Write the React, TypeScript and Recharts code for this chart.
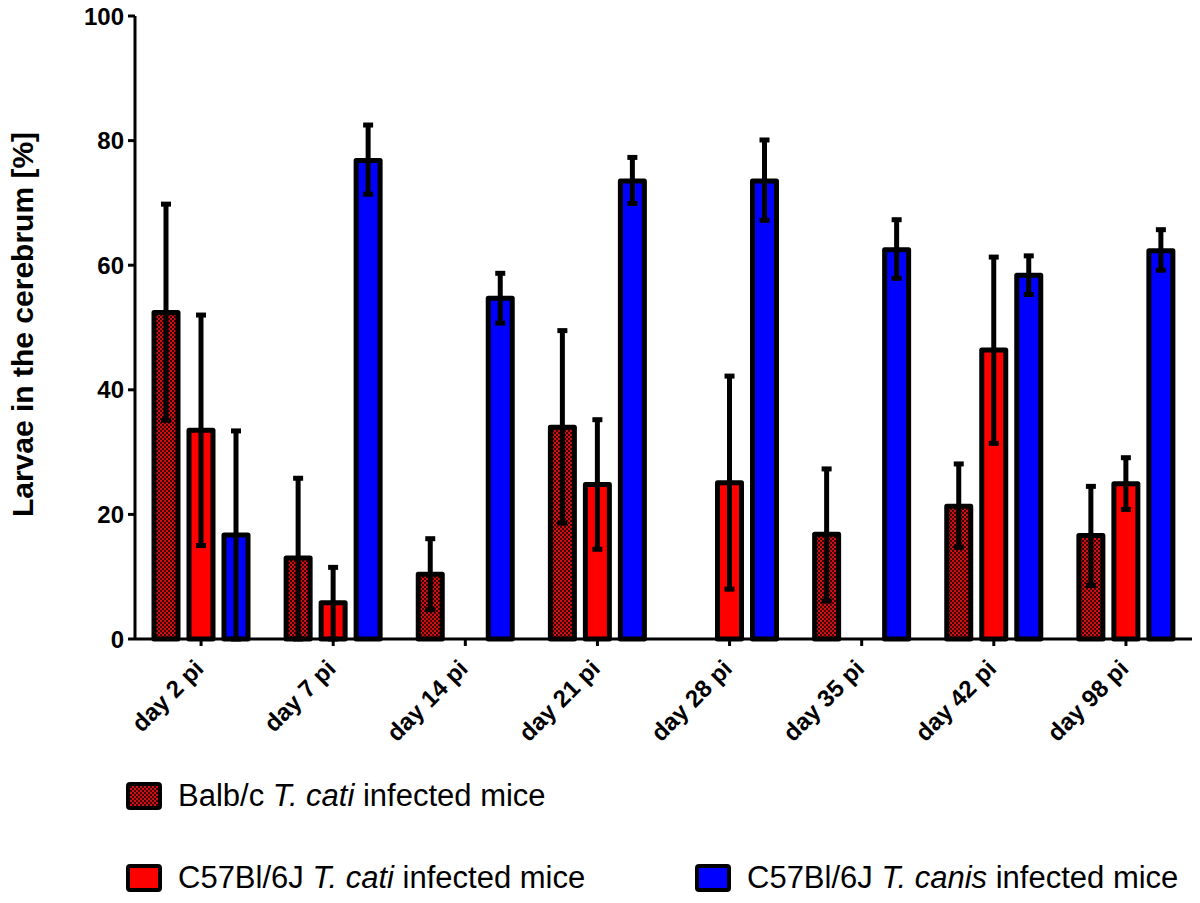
import { BarChart, Bar, XAxis, YAxis, ErrorBar } from 'recharts'

const days = ['day 2 pi', 'day 7 pi', 'day 14 pi', 'day 21 pi', 'day 28 pi', 'day 35 pi', 'day 42 pi', 'day 98 pi']

// Balb/c T. cati
const balbMean = [52.4, 13.0, 10.4, 34.0, null, 16.8, 21.3, 16.6]
const balbLow = [35.1, 0, 4.7, 18.6, null, 6.1, 14.7, 8.6]
const balbHigh = [69.8, 25.8, 16.1, 49.5, null, 27.3, 28.1, 24.5]

// C57Bl/6J T. cati
const catiMean = [33.5, 5.8, null, 24.8, 25.1, null, 46.4, 24.9]
const catiLow = [15.0, 0, null, 14.4, 8.0, null, 31.4, 20.8]
const catiHigh = [52.0, 11.5, null, 35.2, 42.2, null, 61.3, 29.1]

// C57Bl/6J T. canis
const canisMean = [16.7, 76.8, 54.7, 73.5, 73.5, 62.5, 58.4, 62.3]
const canisLow = [0, 71.4, 50.7, 69.9, 67.2, 57.9, 55.3, 59.2]
const canisHigh = [33.4, 82.5, 58.7, 77.3, 80.1, 67.3, 61.5, 65.7]

const yTicks = [0, 20, 40, 60, 80, 100]

const err = (m, lo, hi) => (m == null ? null : [m - lo, hi - m])

const data = days.map((day, i) => ({
  day,
  balb: balbMean[i],
  balbErr: err(balbMean[i], balbLow[i], balbHigh[i]),
  cati: catiMean[i],
  catiErr: err(catiMean[i], catiLow[i], catiHigh[i]),
  canis: canisMean[i],
  canisErr: err(canisMean[i], canisLow[i], canisHigh[i]),
}))

const FONT = '"Liberation Sans", Arial, sans-serif'
const RED_A = '#d01010'
const RED_B = '#3c0000'

const XTick = ({ x, y, payload }) => (
  <g transform={`translate(${x + 4},${y + 22})`}>
    <text
      x={0}
      y={0}
      textAnchor="end"
      transform="rotate(-45)"
      fontFamily={FONT}
      fontWeight="bold"
      fontSize={24}
      fill="#000"
    >
      {payload.value}
    </text>
  </g>
)

const YLabel = ({ viewBox }) => {
  const cx = 22
  const cy = viewBox.y + viewBox.height / 2 - 3
  return (
    <text
      x={cx}
      y={cy}
      textAnchor="middle"
      dominantBaseline="central"
      transform={`rotate(-90, ${cx}, ${cy})`}
      fontFamily={FONT}
      fontWeight="bold"
      fontSize={30}
      fill="#000"
    >
      Larvae in the cerebrum [%]
    </text>
  )
}

const swatch = (bg, left, top) => (
  <div
    style={{
      position: 'absolute',
      left,
      top,
      width: 36,
      height: 28,
      boxSizing: 'border-box',
      border: '4px solid #000',
      borderRadius: 4,
      background: bg,
    }}
  />
)

const legendText = (strain, species, left, top) => (
  <div
    style={{
      position: 'absolute',
      left,
      top,
      fontFamily: FONT,
      fontSize: 31,
      lineHeight: '34px',
      color: '#000',
      whiteSpace: 'nowrap',
    }}
  >
    {strain} <i>{species}</i> infected mice
  </div>
)

const checkerCss = `repeating-conic-gradient(${RED_A} 0 25%, ${RED_B} 0 50%) 0 0 / 4px 4px`

export default function App() {
  return (
    <div style={{ position: 'absolute', left: 0, top: 0, width: 1200, height: 903, background: '#fff' }}>
      <BarChart
        width={1200}
        height={760}
        data={data}
        margin={{ top: 16, right: 8, left: 0, bottom: 0 }}
        barSize={24}
        barGap={11}
      >
        <defs>
          <pattern id="checker" width="4" height="4" patternUnits="userSpaceOnUse">
            <rect width="4" height="4" fill={RED_B} />
            <rect width="2" height="2" fill={RED_A} />
            <rect x="2" y="2" width="2" height="2" fill={RED_A} />
          </pattern>
        </defs>
        <XAxis
          dataKey="day"
          height={121}
          interval={0}
          tick={<XTick />}
          tickSize={7}
          axisLine={{ stroke: '#000', strokeWidth: 3 }}
          tickLine={{ stroke: '#000', strokeWidth: 3 }}
        />
        <YAxis
          width={135}
          domain={[0, 100]}
          ticks={yTicks}
          tickSize={7}
          tickMargin={4}
          axisLine={{ stroke: '#000', strokeWidth: 3 }}
          tickLine={{ stroke: '#000', strokeWidth: 3 }}
          tick={{ fill: '#000', fontFamily: FONT, fontWeight: 'bold', fontSize: 24 }}
          label={<YLabel />}
        />
        <Bar dataKey="balb" fill="url(#checker)" stroke="#000" strokeWidth={5} strokeLinejoin="round" isAnimationActive={false}>
          <ErrorBar dataKey="balbErr" direction="y" width={5} stroke="#000" strokeWidth={5} />
        </Bar>
        <Bar dataKey="cati" fill="#ff0000" stroke="#000" strokeWidth={5} strokeLinejoin="round" isAnimationActive={false}>
          <ErrorBar dataKey="catiErr" direction="y" width={5} stroke="#000" strokeWidth={5} />
        </Bar>
        <Bar dataKey="canis" fill="#0000ff" stroke="#000" strokeWidth={5} strokeLinejoin="round" isAnimationActive={false}>
          <ErrorBar dataKey="canisErr" direction="y" width={5} stroke="#000" strokeWidth={5} />
        </Bar>
      </BarChart>
      {swatch(checkerCss, 126, 782)}
      {legendText('Balb/c', 'T. cati', 178, 779)}
      {swatch('#ff0000', 126, 864)}
      {legendText('C57Bl/6J', 'T. cati', 178, 861)}
      {swatch('#0000ff', 695, 864)}
      {legendText('C57Bl/6J', 'T. canis', 747, 861)}
    </div>
  )
}
